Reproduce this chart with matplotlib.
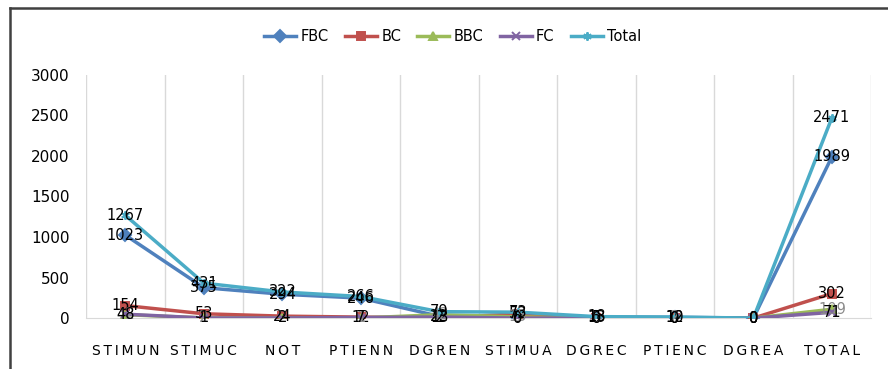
import numpy as np
import matplotlib.pyplot as plt
from matplotlib.lines import Line2D

categories = ["STIMUN", "STIMUC", "NOT", "PTIENN", "DGREN",
              "STIMUA", "DGREC", "PTIENC", "DGREA", "TOTAL"]

fbc = [1023, 375, 294, 246, 22, 6, 13, 10, 0, 1989]
bc = [154, 53, 24, 12, 2, 52, 5, 0, 0, 302]
bbc = [42, 2, 2, 1, 42, 15, 0, 2, 0, 109]
fc = [48, 1, 2, 7, 13, 0, 0, 0, 0, 71]
total = [1267, 431, 322, 266, 79, 73, 18, 12, 0, 2471]

series = [
    ("FBC", fbc, "#4F81BD", "D", "black"),
    ("BC", bc, "#C0504D", "s", "black"),
    ("BBC", bbc, "#9BBB59", "^", "#8c8c8c"),
    ("FC", fc, "#8064A2", "x", "black"),
    ("Total", total, "#4BACC6", (6, 2, 0), "black"),
]

plt.rcParams["font.family"] = ["DejaVu Sans"]

fig = plt.figure(figsize=(8.88, 3.69), dpi=100)
ax = fig.add_axes([0.097, 0.138, 0.884, 0.659])

x = np.arange(len(categories))
for name, vals, color, marker, lab_color in series:
    ax.plot(x, vals, color=color, lw=2.5, marker=marker, ms=6,
            mew=1.4, label=name, zorder=3)
    for xi, v in zip(x, vals):
        ax.text(xi, v, str(v), ha="center", va="center", fontsize=10.5,
                color=lab_color, zorder=5)

ax.set_xlim(-0.5, len(categories) - 0.5)
ax.set_ylim(0, 3000)
ax.set_yticks(np.arange(0, 3001, 500))
ax.set_xticks(x)
ax.set_xticklabels(["\u2009".join(c) for c in categories], fontsize=10)
ax.tick_params(axis="both", length=0)
ax.tick_params(axis="x", pad=19)
ax.tick_params(axis="y", labelsize=11, pad=12)

# category boundaries as vertical gridlines
ax.set_xticks(np.arange(-0.5, len(categories)), minor=True)
ax.tick_params(axis="x", which="minor", length=0)
ax.grid(axis="x", which="minor", color="#d9d9d9", lw=1)
for side in ["top", "right", "left"]:
    ax.spines[side].set_visible(False)
ax.spines["bottom"].set_color("#d9d9d9")

fig.legend(loc="center", bbox_to_anchor=(0.51, 0.9), ncol=5, frameon=False,
           fontsize=10.5, handlelength=2.2, columnspacing=1.1, handletextpad=0.3)

# outer frame (left and top edges)
fx = 10 / 888
fy = 1 - 8 / 369
fig.add_artist(Line2D([fx, fx], [0, fy], color="#404040", lw=1.8,
                      transform=fig.transFigure))
fig.add_artist(Line2D([fx, 1], [fy, fy], color="#404040", lw=1.8,
                      transform=fig.transFigure))

fig.savefig("out.png", dpi=100)
